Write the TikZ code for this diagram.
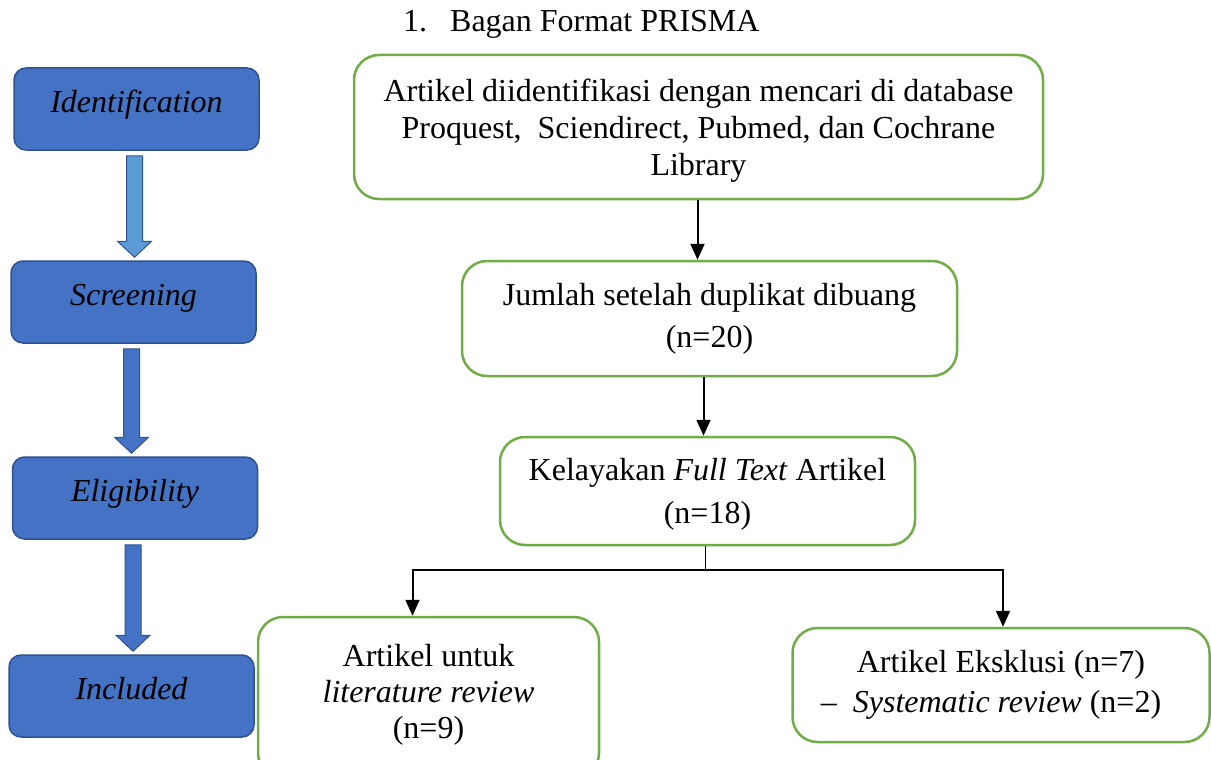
\documentclass[tikz,border=0pt]{standalone}
\usepackage{fontspec}
\setmainfont{Liberation Serif}
\usetikzlibrary{arrows.meta,positioning,calc}
\definecolor{phasefill}{HTML}{4472C4}
\definecolor{phaseline}{HTML}{2F528F}
\definecolor{lightphase}{HTML}{5B9BD5}
\definecolor{boxgreen}{HTML}{70AD47}
\tikzset{
  phase/.style={draw=phaseline, fill=phasefill, line width=1.5pt, rounded corners=12pt,
    minimum width=245pt, minimum height=82pt, text height=22pt, text depth=16pt,
    font=\fontsize{32}{38}\selectfont\itshape},
  stepbox/.style={draw=boxgreen, line width=2.5pt, rounded corners=25pt, align=center, fill=white, inner sep=0pt},
  flow/.style={-{Triangle[width=14pt,length=16pt]}, line width=2pt},
}
% block arrow between two phase boxes
\newcommand{\phasearrow}[3]{%
  \path[draw=phaseline, fill=#3, line width=1pt]
    let \p1=($(#1.south)+(-2,5)$), \p2=($(#2.north)+(0,-3)$) in
    (\x1-8pt,\y1) -- (\x1+8pt,\y1) -- (\x1+8pt,\y2+16pt) -- (\x1+17pt,\y2+16pt)
    -- (\x1,\y2) -- (\x1-17pt,\y2+16pt) -- (\x1-8pt,\y2+16pt) -- cycle;}
\begin{document}
\begin{tikzpicture}[x=1pt, y=-1pt, font=\fontsize{32}{37}\selectfont]
  \useasboundingbox (0,0) rectangle (1211,760);

  \node[anchor=west, inner sep=0pt] (title) at (403,24) {1.\hskip 23pt Bagan Format PRISMA};

  % phases
  \node[phase] (ident) at (136.5,109) {Identification};
  \node[phase] (screen) at (133.5,302) {Screening};
  \node[phase] (elig) at (135,498) {Eligibility};
  \node[phase] (incl) at (131.5,696) {Included};
  \phasearrow{ident}{screen}{lightphase}
  \phasearrow{screen}{elig}{phasefill}
  \phasearrow{elig}{incl}{phasefill}

  % flow boxes
  \node[stepbox, minimum width=689pt, minimum height=144pt, text depth=-3pt] (search) at (698.5,127)
    {Artikel diidentifikasi dengan mencari di database\\
     Proquest,\ \ Sciendirect, Pubmed, dan Cochrane\\ Library};
  \node[stepbox, minimum width=495pt, minimum height=115pt,
    font=\fontsize{32}{42}\selectfont] (dup) at (709.5,318.5)
    {Jumlah setelah duplikat dibuang\\ (n=20)};
  \node[stepbox, minimum width=415pt, minimum height=108pt, text depth=-4pt,
    font=\fontsize{32}{43}\selectfont] (full) at (707.5,491)
    {Kelayakan \textit{Full Text} Artikel\\ (n=18)};
  \node[stepbox, minimum width=341pt, minimum height=161pt, text depth=12pt,
    font=\fontsize{32}{36}\selectfont] (incbox) at (428.5,697.5)
    {Artikel untuk\\ \textit{literature review}\\ (n=9)};
  \node[stepbox, minimum width=417pt, minimum height=114pt,
    font=\fontsize{32}{40}\selectfont] (excl) at (1001,685)
    {Artikel Eksklusi (n=7)\\ \hskip -20pt\textendash\ \ \textit{Systematic review} (n=2)};

  % connectors
  \draw[flow] ([xshift=-1pt]search.south) -- ([xshift=-1pt]search.south |- dup.north);
  \draw[flow] ([xshift=-6pt]dup.south) -- ([xshift=-6pt]dup.south |- full.north);
  \draw[line width=1pt] ([xshift=-2pt]full.south) -- ++(0,24) coordinate (split);
  \draw[flow] (split) -| ([xshift=-16pt]incbox.north);
  \draw[flow] (split) -| ([xshift=2pt]excl.north);
\end{tikzpicture}
\end{document}
